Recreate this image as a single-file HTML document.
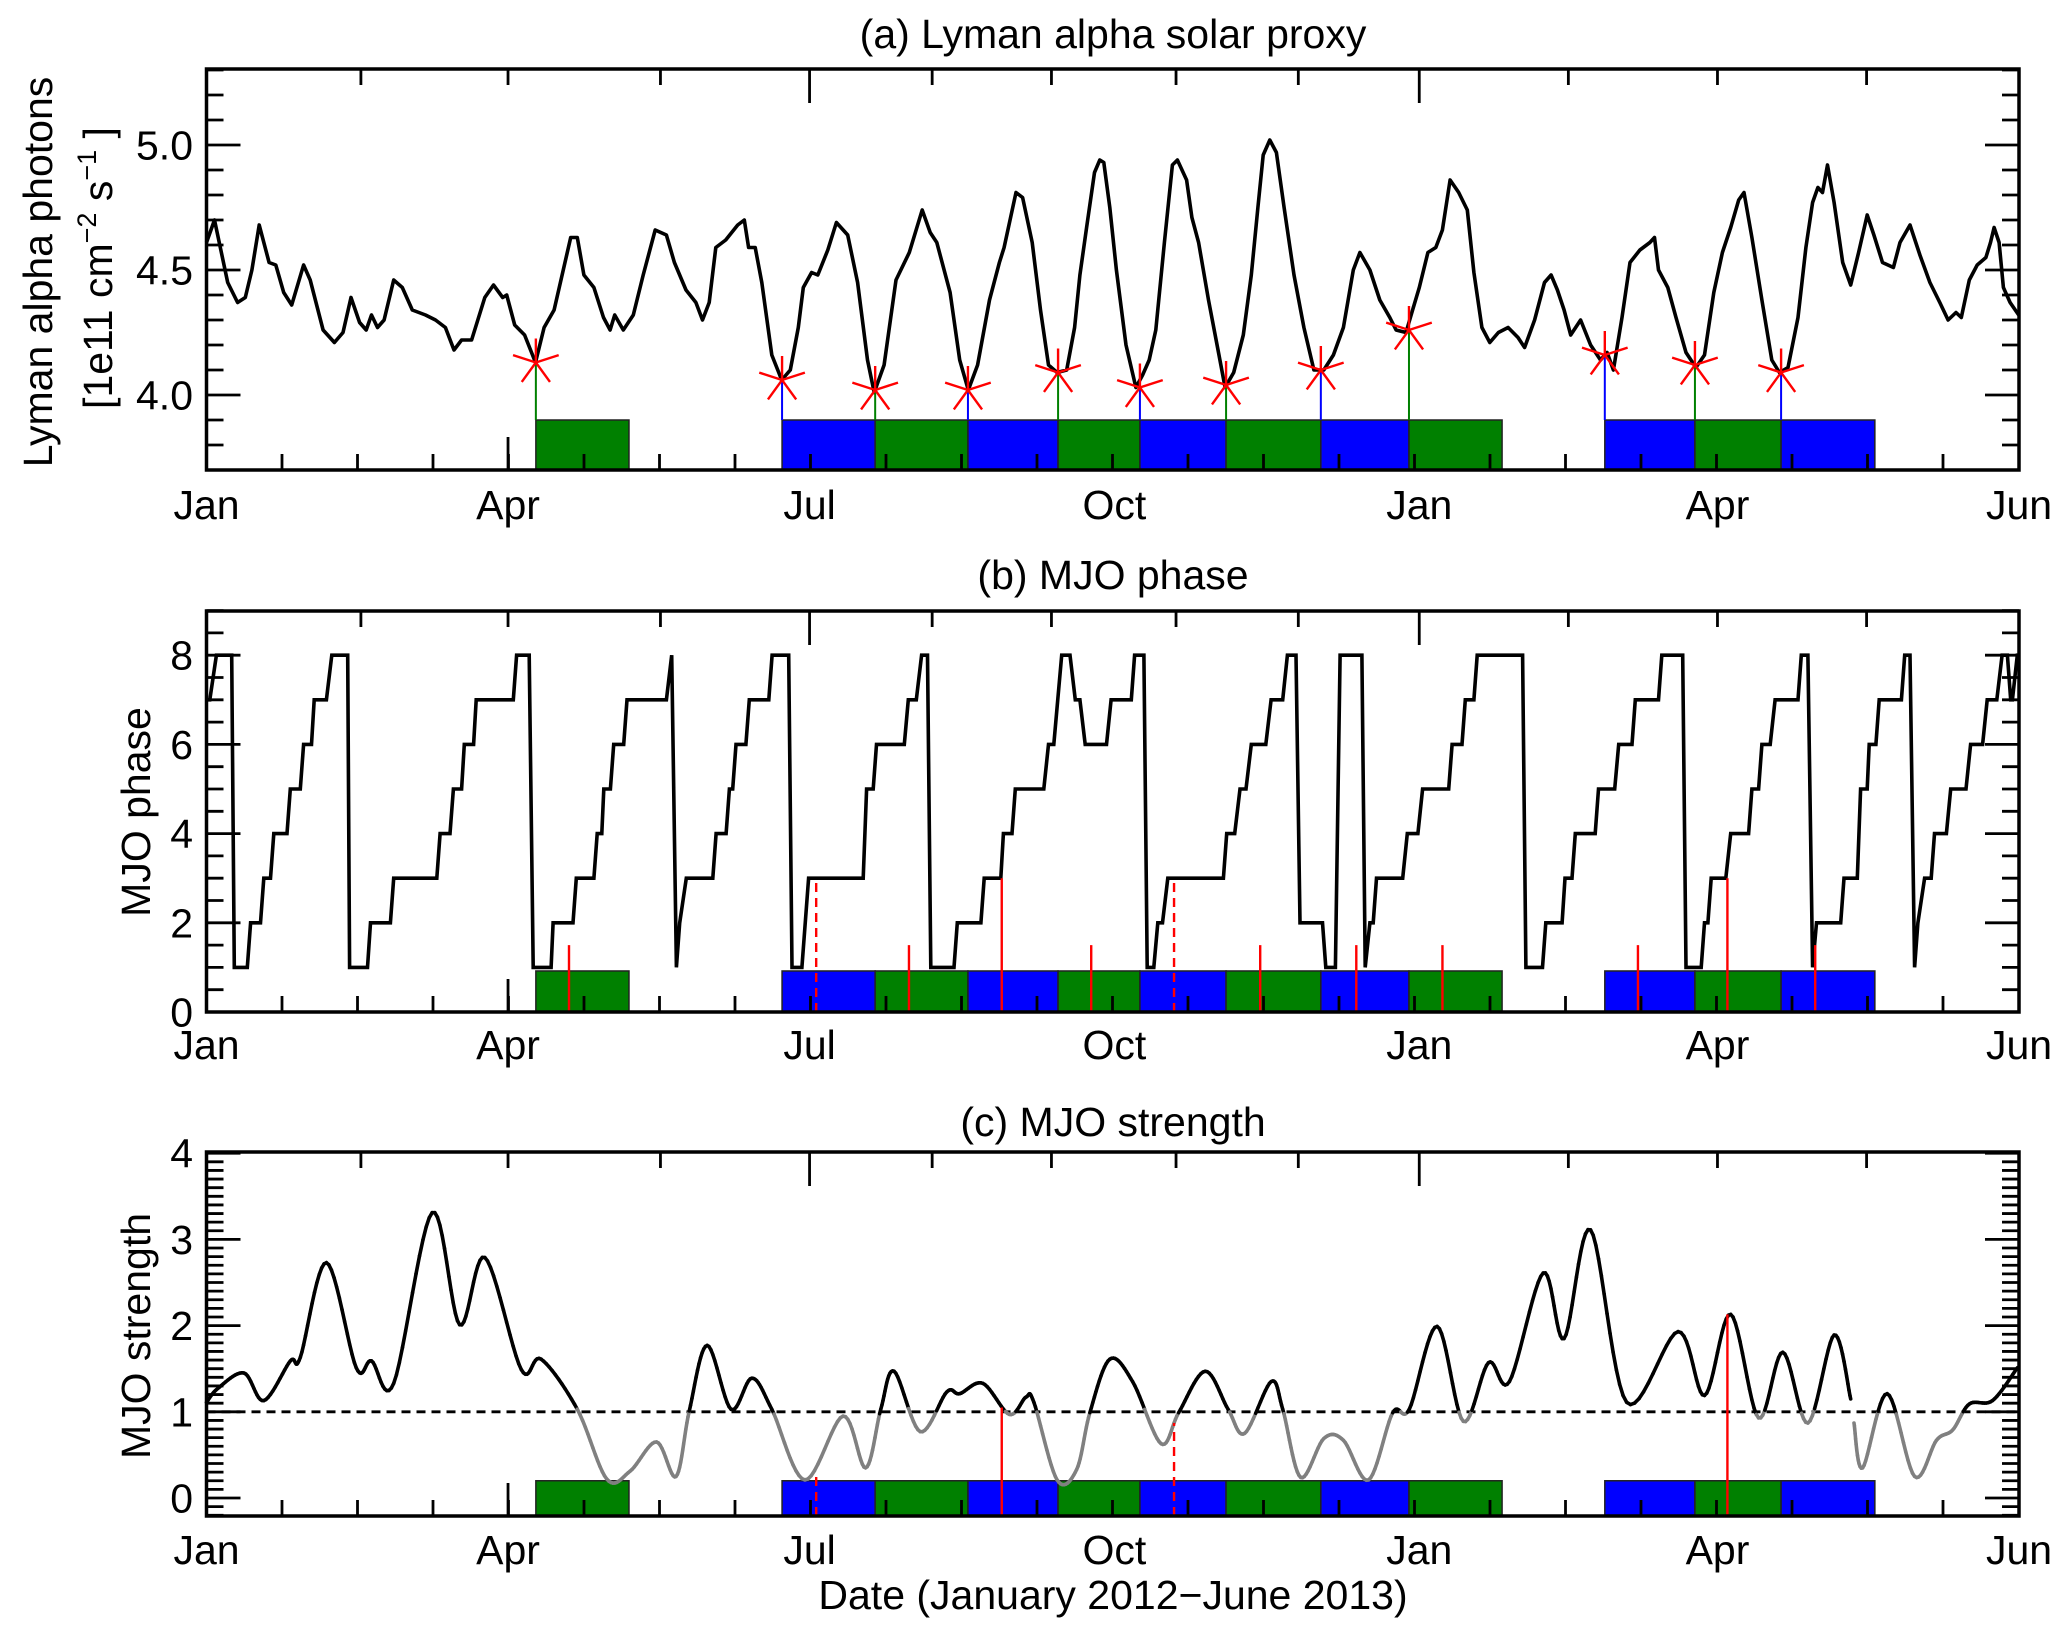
<!DOCTYPE html>
<html><head><meta charset="utf-8"><style>
html,body{margin:0;padding:0;background:#fff}
svg{display:block;font-family:"Liberation Sans",Arial,sans-serif}
</style></head><body>
<svg id="chart" xmlns="http://www.w3.org/2000/svg" width="2067" height="1635" viewBox="0 0 2067 1635">
<rect width="2067" height="1635" fill="#fff"/>
<g id="g"></g>
</svg>
<script>
// ---- data ----
const monthLabels = ["Jan","Apr","Jul","Oct","Jan","Apr","Jun"];
const monthLabelDays = [0,91,182,274,366,456,547];
const topTickDays = [46.6,91,137,182,219,255,292.6,329.5,366,411,456,501];
const boxStart = [99.4,173.7,201.8,229.8,257,281.7,307.7,336.3,362.9,422,449.2,475.2];
const boxEnd   = [127.5,201.8,229.8,257,281.7,307.7,336.3,362.9,391,449.2,475.2,503.5];
const boxKind  = ["g","b","g","b","g","b","g","b","g","b","g","b"];
const starVal  = [4.13,4.06,4.02,4.02,4.09,4.03,4.04,4.10,4.26,4.16,4.12,4.09];
const lyDays = [0,2.4,6.4,9.4,11.7,13.7,15.9,18.9,20.9,23.3,25.7,29.3,31.3,35.2,38.6,41.2,43.6,46.2,48.2,49.8,51.6,53.6,56.5,59.1,62.1,66.1,69.1,72.1,74.7,77,80,84,86.6,89.4,90.6,93,96,99.3,101.9,104.9,109.9,111.9,113.9,116.9,119.8,121.8,123.2,125.8,128.8,131.8,135.4,138.8,141.2,144.7,147.7,149.7,151.7,153.7,156.7,160.3,162.3,163.6,165.6,167.6,170.6,173.6,176.2,178.6,180.1,182.6,184.5,187.5,190.1,193.5,196.5,199.5,201.5,204.5,208.1,212.1,216,218.4,220.4,224.4,227.3,229.9,232.7,236.3,239.3,240.7,244.3,246.3,249.2,251.7,254.1,256.7,259.6,262,263.6,265.6,268,269.6,270.8,272.6,274.6,277.5,280.5,282.5,284.5,286.5,289.1,291.5,293,295.8,297.4,299.4,302.4,305.4,307.4,310,312.9,315.3,317.3,318.9,320.9,322.9,325.2,328.2,331.2,334.2,337.2,340.1,343.1,346.1,348.1,351.1,354.1,357.1,359,362,364,366,368.6,371,373,375.3,377.9,380.5,382.5,384.9,387.3,389.9,392.8,395.8,397.8,400.8,403.8,405.8,407.7,409.7,411.7,414.7,417.7,420.7,422.7,424.6,427.2,429.6,432.6,435.6,437,438.2,441,443.5,446.5,449.5,452.1,454.9,457.5,460,462.4,464,466.4,469.4,472.4,474.7,477.3,480.3,482.7,484.7,486.3,487.7,489.2,491.2,493.8,496.2,498.6,501.2,503.2,505.8,509.1,511.1,514.1,517.1,520.1,523.1,525.6,528,529.6,532,534.4,537,538.4,539.5,541,542.3,544.3,546.9];
const lyVals = [4.61,4.70,4.45,4.37,4.39,4.50,4.68,4.53,4.52,4.41,4.36,4.52,4.46,4.26,4.21,4.25,4.39,4.29,4.26,4.32,4.27,4.30,4.46,4.43,4.34,4.32,4.30,4.27,4.18,4.22,4.22,4.39,4.44,4.39,4.40,4.28,4.24,4.13,4.27,4.34,4.63,4.63,4.48,4.43,4.31,4.26,4.32,4.26,4.32,4.48,4.66,4.64,4.53,4.42,4.37,4.30,4.37,4.59,4.62,4.68,4.70,4.59,4.59,4.45,4.16,4.06,4.10,4.27,4.43,4.49,4.48,4.58,4.69,4.64,4.45,4.14,4.01,4.12,4.46,4.57,4.74,4.65,4.61,4.41,4.14,4.02,4.12,4.38,4.53,4.59,4.81,4.79,4.61,4.34,4.12,4.09,4.10,4.27,4.48,4.67,4.89,4.94,4.93,4.75,4.50,4.20,4.03,4.08,4.14,4.26,4.61,4.92,4.94,4.86,4.71,4.61,4.38,4.17,4.03,4.09,4.24,4.48,4.75,4.96,5.02,4.97,4.75,4.48,4.27,4.10,4.10,4.16,4.27,4.50,4.57,4.50,4.38,4.31,4.26,4.25,4.34,4.43,4.57,4.59,4.66,4.86,4.81,4.74,4.49,4.27,4.21,4.25,4.27,4.23,4.19,4.30,4.45,4.48,4.42,4.34,4.24,4.30,4.20,4.14,4.17,4.10,4.31,4.53,4.58,4.61,4.63,4.50,4.43,4.31,4.17,4.11,4.16,4.41,4.57,4.67,4.78,4.81,4.63,4.38,4.14,4.09,4.11,4.31,4.59,4.77,4.83,4.81,4.92,4.77,4.53,4.44,4.57,4.72,4.64,4.53,4.51,4.61,4.68,4.56,4.45,4.37,4.30,4.33,4.31,4.46,4.52,4.55,4.61,4.67,4.61,4.43,4.37,4.32];
const phStart = [0,3,8.4,13.3,17.3,20.3,25.3,29.3,32.5,37.8,43.2,49.5,56.5,70.5,74.5,77.8,81.4,93.6,98.6,104.6,111.6,117.9,119.9,122.9,126.9,140.4,141.8,142.8,144.8,153.8,157.8,159.8,163.8,170.7,176.7,181.7,199.2,202.2,211.8,215.8,218.6,226.6,234.7,240.5,244.1,254.1,258.1,262.2,265.2,273,280.1,283.9,287.1,290.1,307.9,311.9,315.3,321.3,326.2,330,337.8,342.1,349.7,351.1,353.1,362.4,367,375.9,379.9,383.5,398.2,404.2,410,413.1,420.1,426.2,431.2,439.2,446.5,452.1,454.1,460,466.4,469.4,473.4,481.3,484.7,485.9,494.2,499.2,501.8,504.8,512.5,515.5,516.5,518.5,521.5,526.4,532.4,537.4,541.9,544.5,546.5];
const phEnd   = [1,7.6,12.3,16.3,19.3,24.3,28.3,31.7,36.2,42.6,48.6,55.5,69.5,73.5,77,80.6,92.6,97.4,104,110.6,116.9,119.3,121.9,125.9,138.8,140.4,141.8,142.8,152.8,156.8,158.8,162.8,169.7,175.7,179.7,198.2,201.2,210.6,214.2,217.6,225.6,233.7,239.7,243.1,252.7,255.7,260.6,263.6,271.6,279.1,282.9,285.9,288.5,306.9,310.3,313.7,319.7,324.8,328.8,336.8,340.7,348.7,349.7,352.1,361,365.6,374.9,378.9,382.5,397.2,403.2,409.1,412.1,419.1,425,430.2,438.2,445.5,451.1,453.1,458.5,465.4,468.4,471.9,480.3,483.3,484.7,493.2,498.2,501.2,503.8,511.5,514.1,515.5,516.5,520.5,525.1,531,536,540.3,543.5,545,547];
const phVal   = [7,8,1,2,3,4,5,6,7,8,1,2,3,4,5,6,7,8,1,2,3,4,5,6,7,8,1,2,3,4,5,6,7,8,1,3,5,6,7,8,1,2,3,4,5,6,8,7,6,7,8,1,2,3,4,5,6,7,8,2,1,8,1,2,3,4,5,6,7,8,1,2,3,4,5,6,7,8,1,2,3,4,5,6,7,8,1,2,3,5,6,7,8,1,2,3,4,5,6,7,8,7,8];
const phRedDays = [109.4,184,212,240,267,292,318,347,373,432,459,485.5];
const phRedTop  = [1.5,2.9,1.5,3.0,1.5,2.9,1.5,1.5,1.5,1.5,3.0,1.5];
const phRedDash = [0,1,0,0,0,1,0,0,0,0,0,0];
const stDays1 = [0,3.4,11.3,17.3,25.3,28.3,36.2,45.2,49.8,56.5,68.1,76.4,84,95,101,111.9,120.8,127.8,135.8,141.7,145.7,151.1,158.3,164.6,170.6,180.6,192.1,198.9,203.5,207.5,215.4,223.4,227.3,234.3,242.3,247.3,249.7,256.7,262.6,266.6,272.6,279.5,288.1,293.4,301.4,308.3,313.3,321.3,324.8,330.2,337.2,343.1,350.7,358,363,371.4,379.3,386.9,393.2,403.4,409.7,417.7,428.6,444.1,452.1,460,468.4,475.7,483.3,491.2,496.2];
const stVals1 = [1.11,1.27,1.45,1.13,1.59,1.63,2.73,1.51,1.59,1.33,3.31,2.01,2.79,1.49,1.61,1.03,0.22,0.31,0.65,0.25,1.01,1.77,1.03,1.39,1.03,0.21,0.95,0.35,1.03,1.47,0.77,1.23,1.21,1.33,0.97,1.17,1.11,0.21,0.33,0.99,1.61,1.35,0.63,0.99,1.47,1.03,0.75,1.35,1.03,0.24,0.69,0.67,0.21,0.99,1.03,1.99,0.89,1.57,1.35,2.61,1.85,3.11,1.11,1.93,1.19,2.13,0.93,1.69,0.87,1.89,1.15];
const stDays2 = [497.2,499.8,507.2,515.5,522.1,527,532,539,546.5];
const stVals2 = [0.87,0.35,1.21,0.25,0.67,0.79,1.09,1.13,1.51];
const stRedDays = [184,240,292,459];
const stRedTop  = [0.28,1.05,0.87,2.13];
const stRedDash = [1,0,1,0];

// ---- helpers ----
const NS="http://www.w3.org/2000/svg", G=document.getElementById('g');
function mk(tag,attrs,parent){const e=document.createElementNS(NS,tag);for(const k in attrs)e.setAttribute(k,attrs[k]);(parent||G).appendChild(e);return e;}
const X0=206.5, X1=2019, DMAX=547;
const FS=41, LW=3.6;
const xs = d => X0 + d*(X1-X0)/DMAX;
const panels = {
 a:{top:69,bot:470,y:v=>395-(v-4)*250},
 b:{top:611,bot:1012,y:v=>1012-v*44.6},
 c:{top:1152,bot:1516,y:v=>1498-v*86.2}
};
const COL={g:"#008000",b:"#0000ff"};

function txt(x,y,s,size,anchor,name,rot){
 const t=mk('text',{x:x,y:y,'font-size':size,'text-anchor':anchor||'middle',fill:'#000'});
 if(rot) t.setAttribute('transform',`rotate(-90 ${x} ${y})`);
 t.textContent=s;
 
 
 return t;
}

function axes(p,key,yMin,yMax,minorStep,majorStep,labels,labelFmt,labelBase){
 const P=panels[p];
 const g=mk('g',{});
 
 
 const n=Math.round((yMax-yMin)/minorStep);
 for(let i=0;i<=n;i++){
   const v=yMin+i*minorStep; const y=P.y(v);
   if(y<P.top-0.5||y>P.bot+0.5) continue;
   const isMaj=Math.abs(v/majorStep-Math.round(v/majorStep))<1e-6;
   const L=isMaj?34:17;
   mk('line',{x1:X0,y1:y,x2:X0+L,y2:y,stroke:'#000','stroke-width':2.8},g);
   mk('line',{x1:X1,y1:y,x2:X1-L,y2:y,stroke:'#000','stroke-width':2.8},g);
 }
 labels.forEach(v=>{
   txt(193,P.y(v)+14.5,labelFmt(v),FS,'end','y-tick-label-'+key);
 });
 for(let x=X0+75.5;x<X1-5;x+=75.5){
   mk('line',{x1:x,y1:P.bot,x2:x,y2:P.bot-16,stroke:'#000','stroke-width':2.8},g);
 }
 mk('line',{x1:xs(91),y1:P.bot,x2:xs(91),y2:P.bot-33,stroke:'#000','stroke-width':2.8},g);
 topTickDays.forEach(d=>{
   const L=(d===182||d===366)?34:16;
   mk('line',{x1:xs(d),y1:P.top,x2:xs(d),y2:P.top+L,stroke:'#000','stroke-width':2.8},g);
 });
 monthLabels.forEach((m,i)=>{
   txt(xs(monthLabelDays[i]),labelBase,m,FS,'middle','x-tick-label-'+key);
 });
 return g;
}
function frame(p,key){
 const P=panels[p];
 const r=mk('rect',{x:X0,y:P.top,width:X1-X0,height:P.bot-P.top,fill:'none',stroke:'#000','stroke-width':3.5});
 
 
}
function boxes(p,topVal,key){
 const P=panels[p];
 boxStart.forEach((s,i)=>{
   const r=mk('rect',{x:xs(s),y:P.y(topVal),width:xs(boxEnd[i])-xs(s),height:P.bot-P.y(topVal),fill:COL[boxKind[i]],stroke:'#222','stroke-width':1.5});
   
   
 });
}

// ===== Panel a =====
txt(1113,48,"(a) Lyman alpha solar proxy",FS,'middle','title-a');
boxes('a',3.9,'a');
axes('a','a',3.7,5.3,0.1,0.5,[4.0,4.5,5.0],v=>v.toFixed(1),519);
{
 const P=panels.a;
 let d=lyDays.map((x,i)=>(i?'L':'M')+xs(x).toFixed(1)+' '+P.y(lyVals[i]).toFixed(1)).join(' ');
 const pth=mk('path',{d:d,fill:'none',stroke:'#000','stroke-width':LW,'stroke-linejoin':'round'});
 
 
 boxStart.forEach((s,i)=>{
   const x=xs(s), y=P.y(starVal[i]);
   const st=mk('line',{x1:x,y1:y,x2:x,y2:P.y(3.9),stroke:COL[boxKind[i]],'stroke-width':2});
   
   
   const sg=mk('g',{stroke:'#ff0000','stroke-width':2.4});
   
   
   for(let k=0;k<5;k++){
     const a=-Math.PI/2+k*2*Math.PI/5;
     mk('line',{x1:x,y1:y,x2:x+24*Math.cos(a),y2:y+24*Math.sin(a)},sg);
   }
 });
}
frame('a','a');
txt(52,272,"Lyman alpha photons",FS,'middle','y-axis-title-a',true);
{
 const x=112,y=268;
 const t=mk('text',{x:x,y:y,'font-size':FS,'text-anchor':'middle',transform:`rotate(-90 ${x} ${y})`});
 
 
 t.innerHTML='[1e11 cm<tspan font-size="27" dy="-16">−2</tspan><tspan dy="16"> s</tspan><tspan font-size="27" dy="-16">−1</tspan><tspan dy="16"> ]</tspan>';
}

// ===== Panel b =====
txt(1113,589,"(b) MJO phase",FS,'middle','title-b');
boxes('b',0.92,'b');
axes('b','b',0,9,0.5,2,[0,2,4,6,8],v=>String(v),1059);
{
 const P=panels.b;
 const pts=[];
 phStart.forEach((s,i)=>{pts.push([s,phVal[i]]);if(phEnd[i]>s)pts.push([phEnd[i],phVal[i]]);});
 const d=pts.map((p,i)=>(i?'L':'M')+xs(p[0]).toFixed(1)+' '+P.y(p[1]).toFixed(1)).join(' ');
 const pth=mk('path',{d:d,fill:'none',stroke:'#000','stroke-width':LW,'stroke-linejoin':'miter'});
 
 
 phRedDays.forEach((dd,i)=>{
   const l=mk('line',{x1:xs(dd),y1:P.bot,x2:xs(dd),y2:P.y(phRedTop[i]),stroke:'#ff0000','stroke-width':2.4});
   if(phRedDash[i]) l.setAttribute('stroke-dasharray','9 6');
   
   
 });
}
frame('b','b');
txt(150,812,"MJO phase",FS,'middle','y-axis-title-b',true);

// ===== Panel c =====
txt(1113,1136,"(c) MJO strength",FS,'middle','title-c');
boxes('c',0.2,'c');
axes('c','c',-0.2,4,0.1,1,[0,1,2,3,4],v=>String(v),1564);
{
 const P=panels.c;
 const ref=mk('line',{x1:X0,y1:P.y(1),x2:X1,y2:P.y(1),stroke:'#000','stroke-width':2.8,'stroke-dasharray':'9 6'});
 
 
 function curve(days,vals){
   const s=[];
   for(let i=0;i<days.length-1;i++){
     const p0=i?i-1:i,p3=Math.min(i+2,days.length-1);
     for(let k=0;k<12;k++){
       const t=k/12,t2=t*t,t3=t2*t;
       const cr=(a,b,c,d)=>0.5*((2*b)+(-a+c)*t+(2*a-5*b+4*c-d)*t2+(-a+3*b-3*c+d)*t3);
       s.push([cr(days[p0],days[i],days[i+1],days[p3]),cr(vals[p0],vals[i],vals[i+1],vals[p3])]);
     }
   }
   s.push([days[days.length-1],vals[vals.length-1]]);
   for(let i=0;i<s.length-1;i++){
     const hi=(s[i][1]+s[i+1][1])/2>=1;
     const l=mk('line',{x1:xs(s[i][0]),y1:P.y(s[i][1]),x2:xs(s[i+1][0]),y2:P.y(s[i+1][1]),stroke:hi?'#000':'#808080','stroke-width':LW,'stroke-linecap':'round'});
     
     
   }
 }
 curve(stDays1,stVals1);
 curve(stDays2,stVals2);
 stRedDays.forEach((dd,i)=>{
   const l=mk('line',{x1:xs(dd),y1:P.bot,x2:xs(dd),y2:P.y(stRedTop[i]),stroke:'#ff0000','stroke-width':2.4});
   if(stRedDash[i]) l.setAttribute('stroke-dasharray','9 6');
   
   
 });
}
frame('c','c');
txt(150,1336,"MJO strength",FS,'middle','y-axis-title-c',true);
txt(1113,1609,"Date (January 2012−June 2013)",FS,'middle','x-axis-title');
</script>
</body></html>
